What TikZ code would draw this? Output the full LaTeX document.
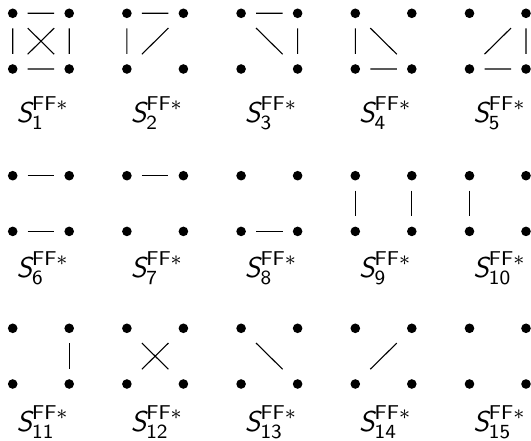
\documentclass[tikz,border=0pt]{standalone}
\usepackage{amsmath}
\begin{document}
\begin{tikzpicture}[x=1pt,y=-1pt,
  vtx/.style={rectangle,inner sep=0pt,minimum size=29.6pt,
    path picture={\fill[black] (path picture bounding box.center) circle (4.8pt);}},
  edge/.style={line width=1.1pt,black},
  lab/.style={anchor=base,inner sep=0pt,scale=2.6,font=\fontsize{11}{13}\selectfont\sffamily}]
\useasboundingbox (0,0) rectangle (531,441);
\foreach \n/\X/\Y/\L in {
  1/12.7/13.3/122.7, 2/126.9/13.3/122.7, 3/241.1/13.3/122.7, 4/355.3/13.3/122.7, 5/469.5/13.3/122.7,
  6/12.7/175.7/277.7, 7/126.9/175.7/277.7, 8/241.1/175.7/277.7, 9/355.3/175.7/277.7, 10/469.5/175.7/277.7,
  11/12.7/328.3/431.5, 12/126.9/328.3/431.5, 13/241.1/328.3/431.5, 14/355.3/328.3/431.5, 15/469.5/328.3/431.5}{
  \node[vtx] (g\n a) at (\X,\Y) {};
  \node[vtx] (g\n b) at (\X+56.5,\Y) {};
  \node[vtx] (g\n c) at (\X,\Y+55.7) {};
  \node[vtx] (g\n d) at (\X+56.5,\Y+55.7) {};
  \node[lab] (l\n) at (\X+30,\L) {$\textsf{\slshape S}_{\textsf{\n}}^{\textsf{FF}\ast}$};
}
% S1
\draw[edge] (g1a)--(g1b) (g1c)--(g1d) (g1a)--(g1c) (g1b)--(g1d) (g1a)--(g1d) (g1b)--(g1c);
% S2
\draw[edge] (g2a)--(g2b) (g2a)--(g2c) (g2c)--(g2b);
% S3
\draw[edge] (g3a)--(g3b) (g3b)--(g3d) (g3a)--(g3d);
% S4
\draw[edge] (g4a)--(g4c) (g4c)--(g4d) (g4a)--(g4d);
% S5
\draw[edge] (g5b)--(g5d) (g5c)--(g5d) (g5c)--(g5b);
% S6
\draw[edge] (g6a)--(g6b) (g6c)--(g6d);
% S7
\draw[edge] (g7a)--(g7b);
% S8
\draw[edge] (g8c)--(g8d);
% S9
\draw[edge] (g9a)--(g9c) (g9b)--(g9d);
% S10
\draw[edge] (g10a)--(g10c);
% S11
\draw[edge] (g11b)--(g11d);
% S12
\draw[edge] (g12a)--(g12d) (g12b)--(g12c);
% S13
\draw[edge] (g13a)--(g13d);
% S14
\draw[edge] (g14c)--(g14b);
\end{tikzpicture}
\end{document}
